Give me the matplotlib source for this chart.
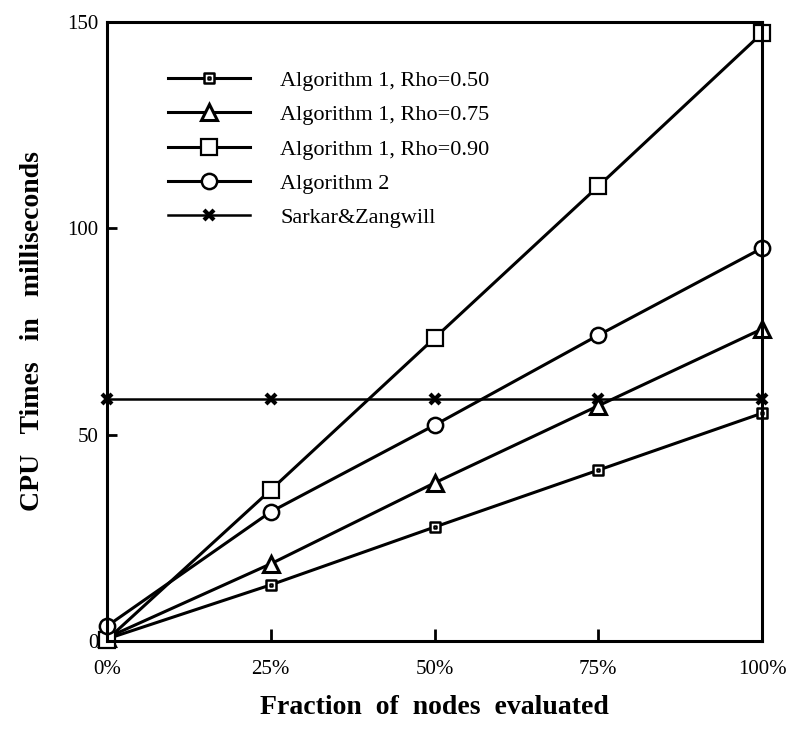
import matplotlib
matplotlib.use("Agg")
import matplotlib.pyplot as plt
from matplotlib.path import Path

fractions = [0, 25, 50, 75, 100]
x_tick_labels = ["0%", "25%", "50%", "75%", "100%"]

rho_050 = [0.5, 13.6, 27.6, 41.4, 55.2]
rho_075 = [0.8, 18.7, 38.3, 57.0, 75.6]
rho_090 = [0.3, 36.6, 73.4, 110.2, 147.3]
algo_2 = [3.6, 31.3, 52.3, 74.1, 95.2]
sarkar = [58.7, 58.7, 58.7, 58.7, 58.7]

plt.rcParams["font.family"] = "Liberation Serif"

# square with a small square inside (drawn as a dot by the edge stroke)
dot_square = Path(
    [(-1, -1), (1, -1), (1, 1), (-1, 1), (-1, -1),
     (-0.15, -0.15), (0.15, -0.15), (0.15, 0.15), (-0.15, 0.15), (-0.15, -0.15)],
    [Path.MOVETO, Path.LINETO, Path.LINETO, Path.LINETO, Path.CLOSEPOLY,
     Path.MOVETO, Path.LINETO, Path.LINETO, Path.LINETO, Path.CLOSEPOLY],
)

fig = plt.figure(figsize=(7.9, 7.35), dpi=100)
ax = fig.add_axes([0.1354, 0.1279, 0.8292, 0.8421])

common = dict(color="black", lw=2.2, mfc="white", mec="black", clip_on=False)
ax.plot(fractions, rho_050, marker=dot_square, ms=7.5, mew=1.8,
        label="Algorithm 1, Rho=0.50", **common)
ax.plot(fractions, rho_075, marker="^", ms=11, mew=2.2,
        label="Algorithm 1, Rho=0.75", **common)
ax.plot(fractions, rho_090, marker="s", ms=11.5, mew=1.6,
        label="Algorithm 1, Rho=0.90", **common)
ax.plot(fractions, algo_2, marker="o", ms=11, mew=1.8,
        label="Algorithm 2", **common)
ax.plot(fractions, sarkar, marker="x", ms=7, mew=3, color="black", lw=1.8,
        clip_on=False, label="Sarkar&Zangwill")

ax.set_xlim(0, 100)
ax.set_ylim(0, 150)
ax.set_xticks(fractions)
ax.set_xticklabels(x_tick_labels)
ax.set_yticks([0, 50, 100, 150])

for side in ["left", "right", "top", "bottom"]:
    ax.spines[side].set_linewidth(2.2)

ax.tick_params(axis="x", direction="in", length=9, width=2, pad=14, labelsize=15)
ax.tick_params(axis="y", direction="in", length=7, width=2, pad=6, labelsize=15)

ax.set_xlabel("Fraction  of  nodes  evaluated", fontsize=20, fontweight="bold",
              labelpad=11)
ax.set_ylabel("CPU   Times   in   milliseconds", fontsize=20, fontweight="bold",
              labelpad=16)

ax.legend(loc="upper left", bbox_to_anchor=(0.093, 0.922), frameon=False,
          fontsize=16, handlelength=3.7, handletextpad=1.35, labelspacing=0.62,
          borderpad=0, borderaxespad=0)

fig.savefig("out.png", dpi=100)
